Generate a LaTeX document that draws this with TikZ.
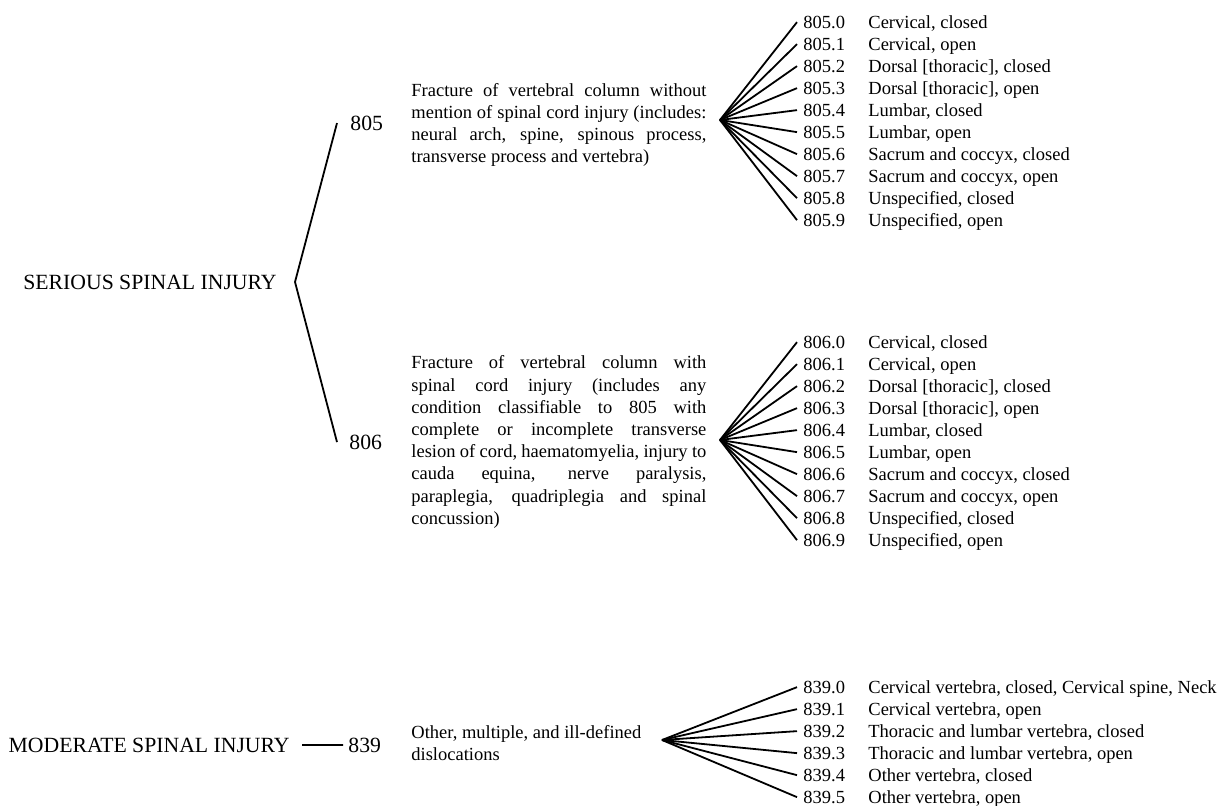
\documentclass[tikz,border=0pt]{standalone}
\usepackage{fontspec}
\setmainfont{Liberation Serif}
\newcommand\bodyfont{\fontsize{9.25}{11.1}\selectfont\tolerance=9999 }
\newcommand\headfont{\fontsize{10.85}{13}\selectfont}
\begin{document}
\begin{tikzpicture}[x=0.5pt,y=-0.5pt,
	head/.style={font=\headfont, inner sep=0pt, text depth=0pt},
	sublbl/.style={font=\headfont, inner ysep=0pt, text depth=0pt, anchor=base west},
	para/.style={font=\bodyfont, inner sep=0pt, text width=147.5pt, align=justify, anchor=west},
	codelbl/.style={font=\bodyfont, inner xsep=3pt, inner ysep=0pt, text depth=0pt, anchor=base west},
	entry/.style={font=\bodyfont, inner sep=0pt, anchor=base west},
	link/.style={line width=0.9pt}]
			\useasboundingbox (0,0) rectangle (1220,806);
			% serious spinal injury
			\node[head, anchor=base east] (serious) at (277,289.2) {SERIOUS SPINAL INJURY};
			\coordinate (brk) at (295,282);
			\node[sublbl, inner xsep=6.5pt] (n805) at (337,130.3) {805};
			\node[sublbl, inner xsep=6pt] (n806) at (337,449.3) {806};
			\draw[link] (n805.west) -- (brk) -- (n806.west);
			% descriptions
			\node[para] (p805) at (411,125) {Fracture of vertebral column without\linebreak
				mention of spinal cord injury (includes:\linebreak
				neural arch, spine, spinous process,\linebreak
				transverse process and vertebra)};
			\node[para] (p806) at (411,442) {Fracture of vertebral column with\linebreak
				spinal cord injury (includes any\linebreak
				condition classifiable to 805 with\linebreak
				complete or incomplete transverse\linebreak
				lesion of cord, haematomyelia, injury to\linebreak
				cauda equina, nerve paralysis,\linebreak
				paraplegia, quadriplegia and spinal\linebreak
				concussion)};
			% subcodes
			\coordinate (v805) at (720,120);
			\coordinate (v806) at (720,440);
			\foreach \n/\yy in {805/22, 806/342}{
				\foreach \i/\txt in {0/{Cervical, closed}, 1/{Cervical, open},
					2/{Dorsal [thoracic], closed}, 3/{Dorsal [thoracic], open},
					4/{Lumbar, closed}, 5/{Lumbar, open},
					6/{Sacrum and coccyx, closed}, 7/{Sacrum and coccyx, open},
					8/{Unspecified, closed}, 9/{Unspecified, open}}{
					\node[codelbl] (c\n-\i) at (797,\yy+22*\i+6.3) {\n.\i};
					\node[entry] (d\n-\i) at (868,\yy+22*\i+6.3) {\txt};
					\draw[link] (v\n) -- (c\n-\i.west);
				}
			}
			% moderate spinal injury
			\node[head, anchor=base east, inner xsep=6pt] (moderate) at (302,752.2) {MODERATE SPINAL INJURY};
			\node[sublbl, inner xsep=2.5pt] (n839) at (343,752.3) {839};
			\draw[link] (moderate.east) -- (n839.west);
			\node[font=\bodyfont, inner sep=0pt, align=left, anchor=west] (p839) at (411,743) {Other, multiple, and ill-defined\\dislocations};
			\coordinate (v839) at (662,740);
			\foreach \i/\txt in {0/{Cervical vertebra, closed, Cervical spine, Neck},
				1/{Cervical vertebra, open},
				2/{Thoracic and lumbar vertebra, closed},
				3/{Thoracic and lumbar vertebra, open},
				4/{Other vertebra, closed}, 5/{Other vertebra, open}}{
				\node[codelbl] (c839-\i) at (797,687+22*\i+6.3) {839.\i};
				\node[entry] (d839-\i) at (868,687+22*\i+6.3) {\txt};
				\draw[link] (v839) -- (c839-\i.west);
			}
\end{tikzpicture}
\end{document}
